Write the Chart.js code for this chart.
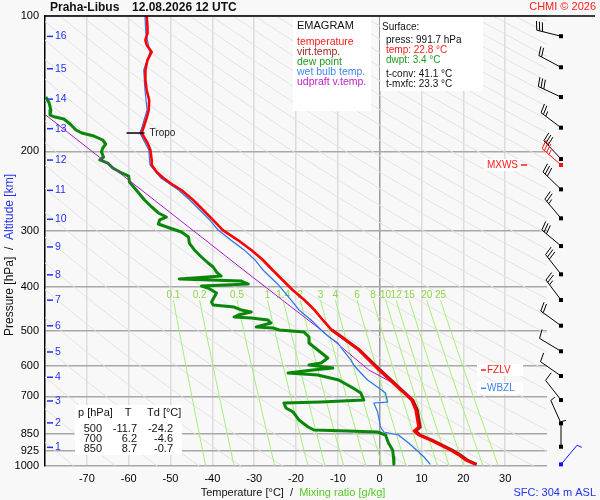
<!DOCTYPE html>
<html>
<head>
<meta charset="utf-8">
<title>Emagram Praha-Libus</title>
<script src="https://cdn.jsdelivr.net/npm/chart.js@4.4.1/dist/chart.umd.min.js"></script>
<style>
  html, body { margin: 0; padding: 0; background: #f8f8f8; }
  canvas { display: block; }
</style>
</head>
<body>
<canvas id="emagram" width="600" height="500"></canvas>
<script>
const FONT = '"Liberation Sans", Arial, Helvetica, sans-serif';
Chart.defaults.font.family = FONT;

// sounding profiles, pressure in hPa, temperature in deg C
const tempP = [100, 105.8, 109.1, 113.1, 116.0, 120.2, 125.3, 131.8, 138.7, 146.0, 153.7, 161.8, 168.5, 176.5, 182.0,
  191.5, 198.6, 208.9, 214.3, 222.2, 229.1, 237.4, 243.6, 256.4, 269.8, 284.1, 299.0, 314.7, 331.1, 348.5,
  366.8, 386.0, 406.3, 427.6, 450.0, 473.7, 498.5, 524.8, 552.3, 581.3, 611.8, 644.0, 677.8, 695.4, 713.4,
  750.8, 790.3, 819.1, 836.1, 853.4, 875.5, 898.3, 921.5, 945.4, 969.8, 991.7];
const tempC = [-55.7, -55.5, -55.5, -56.0, -55.7, -54.5, -55.5, -56.0, -56.0, -55.7, -55.1, -55.2, -55.7, -56.4, -56.9,
  -55.5, -54.8, -54.5, -54.5, -53.3, -51.7, -49.4, -47.4, -44.6, -42.2, -39.8, -37.5, -33.9, -30.7, -27.9,
  -25.6, -23.2, -20.8, -18.0, -15.6, -13.6, -11.5, -8.2, -5.0, -2.6, -0.2, 2.4, 5.0, 6.4, 7.6,
  8.6, 9.0, 9.3, 8.2, 9.3, 12.1, 14.5, 16.9, 18.9, 20.5, 22.8];

const virtP = [498.5, 552.3, 611.8, 677.8, 713.4, 750.8, 790.3, 819.1, 836.1, 853.4, 875.5, 898.3, 921.5, 945.4, 969.8, 991.7];
const virtC = [-11.4, -4.8, 0.1, 5.3, 7.9, 9.0, 9.4, 9.7, 8.6, 9.7, 12.5, 14.9, 17.3, 19.3, 20.9, 23.2];

const dewP = [151.4, 156.1, 161.8, 166.0, 167.7, 169.4, 173.8, 179.2, 182.0, 184.8, 188.6, 192.5, 196.5, 200.5, 205.7,
  208.9, 212.2, 217.7, 222.2, 226.8, 233.8, 238.7, 247.4, 256.4, 265.7, 274.0, 279.7, 284.0, 289.9, 295.9,
  302.0, 309.8, 319.5, 331.1, 343.2, 353.9, 361.2, 370.6, 378.3, 384.1, 388.1, 394.1, 398.1, 402.2, 412.6,
  432.1, 438.7, 443.3, 450.1, 454.7, 461.8, 466.5, 468.9, 473.7, 481.1, 491.0, 493.5, 498.6, 503.8, 516.8,
  532.9, 552.3, 575.4, 590.4, 596.4, 605.7, 611.9, 621.4, 627.8, 644.0, 671.0, 688.4, 713.6, 720.9, 724.4,
  743.2, 758.6, 790.2, 819.1, 831.8, 836.0, 840.3, 853.3, 888.9, 921.4, 955.0, 991.7];
const dewC = [-79.8, -79.0, -78.6, -78.8, -77.6, -75.5, -74.0, -72.6, -71.2, -68.3, -66.2, -65.5, -66.2, -66.5, -66.0,
  -66.9, -65.0, -63.8, -62.1, -60.0, -59.8, -59.0, -57.6, -56.2, -54.5, -52.9, -51.0, -52.6, -52.9, -50.2,
  -47.4, -45.7, -45.5, -44.3, -42.6, -41.0, -39.8, -39.0, -37.9, -47.9, -33.1, -31.4, -42.6, -41.0, -39.0,
  -40.2, -39.8, -34.8, -33.1, -30.7, -33.8, -34.8, -30.7, -26.7, -26.0, -29.5, -25.5, -24.0, -18.1, -16.9,
  -16.9, -14.8, -12.4, -14.0, -16.9, -11.2, -16.0, -21.9, -14.8, -9.8, -6.4, -4.5, -3.8, -14.0, -22.9,
  -22.4, -20.7, -19.3, -17.1, -15.7, -7.6, -0.5, 1.4, 2.1, 3.1, 3.3, 3.4];

const wetP = [100, 109.1, 120.2, 131.8, 146.0, 161.8, 176.5, 182.0, 198.6, 214.3, 229.1, 243.6, 256.4, 284, 299,
  315, 331, 348.5, 366.8, 394, 427.6, 450, 473.7, 498.6, 516.8, 532.9, 552.3, 581.3, 596.4, 621.4,
  644.0, 671.0, 688.4, 720.9, 724.4, 758.6, 819.1, 840.3, 853.3, 888.9, 921.4, 955.0, 991.7];
const wetC = [-56.1, -55.9, -54.9, -56.4, -56.1, -55.6, -56.8, -57.3, -55.2, -54.9, -52.3, -48.1, -45.4, -40.6, -38.6,
  -35.5, -32.4, -29.8, -27.9, -24.4, -21.2, -19.3, -16.4, -14.0, -12.1, -10.0, -8.8, -6.9, -6.2, -4.5,
  -2.9, -0.2, 1.4, 1.9, -1.4, -0.5, 0.2, 1.0, 4.5, 6.9, 8.8, 10.6, 12.1];

const parcelP = [165.0, 256.4, 382.1, 498.6, 611.9, 664.2];
const parcelC = [-80.2, -53.9, -30.1, -14.0, -2.6, 4.5];

// diagram
const pressureTicks = [100, 200, 300, 400, 500, 600, 700, 850, 925, 1000];
const altKm = [1, 2, 3, 4, 5, 6, 7, 8, 9, 10, 11, 12, 13, 14, 15, 16];
const altP = [909, 802, 717, 635, 558, 488, 428, 376, 326, 283, 244, 209, 178, 153, 131, 111];
const dryAdiabats = [190, 200, 210, 220, 230, 240, 250, 260, 270, 280, 290, 300, 310, 320, 330, 340, 350, 360,
  370, 380, 390, 400, 410, 420, 430, 440, 450, 460, 470, 480, 490, 500, 510, 520, 530, 540, 550, 560, 570,
  580, 590, 600, 610];
const mixRatios = [0.1, 0.2, 0.5, 1, 1.4, 2, 3, 4, 6, 8, 10, 12, 15, 20, 25];
const mixLevels = [428, 475, 525, 575, 625, 675, 725, 775, 825, 875, 925, 975, 1000];

// wind (direction deg, speed kt)
const windP = [110.9, 130.0, 151.4, 177.1, 207.9, 242.8, 281.6, 324.5, 375.0, 427.6, 487.8, 556.0, 631.0, 713.6, 803.8, 906.1];
const windDir = [284, 298, 295, 307, 317, 314, 320, 310, 322, 323, 306, 301, 305, 322, 336, 360];
const windKt = [30, 20, 30, 25, 30, 30, 25, 30, 30, 25, 20, 10, 10, 10, 5, 5];
const sfcWind = [991.7, 40, 5];
const maxWind = [214.3, 311, 35];

const tropoP = 182;
const tropoLineT = [-60.5, -56.2];
const fzlvP = 612;
const wbzlP = 672;

const tableP = [500, 700, 850];
const tableT = [-11.7, 6.2, 8.7];
const tableTd = [-24.2, -4.6, -0.7];

const legendItems = ['temperature', 'virt.temp.', 'dew point', 'wet bulb temp.', 'udpraft v.temp.'];
const legendColors = ['#ff1a1a', '#9c2020', '#1f9a1f', '#3f86f5', '#c020c8'];
const surfaceLines = ['press: 991.7 hPa', 'temp: 22.8 °C', 'dwpt: 3.4 °C', 't-conv: 41.1 °C', 't-mxfc: 23.3 °C'];
const surfaceColors = ['#111', '#ff1a1a', '#1f9a1f', '#111', '#111'];

function toXY(ps, ts) {
  return ps.map((p, i) => ({ x: ts[i], y: p }));
}

function label(ctx, s, x, y, color, font, align) {
  ctx.fillStyle = color;
  ctx.font = font;
  ctx.textAlign = align || 'left';
  ctx.textBaseline = 'middle';
  ctx.fillText(s, x, y);
}

function dewFromMix(w, p) {
  const e = w * p / (622 + w);
  const l = Math.log(e / 6.112);
  return 243.5 * l / (17.67 - l);
}

function drawBarb(ctx, x0, y0, dir, kt, color) {
  const a = dir * Math.PI / 180;
  const sx = Math.sin(a), sy = -Math.cos(a);
  const nx = -sy, ny = sx;
  const L = 25;
  ctx.strokeStyle = color;
  ctx.fillStyle = color;
  ctx.lineWidth = 1;
  ctx.beginPath();
  ctx.moveTo(x0, y0);
  ctx.lineTo(x0 + sx * L, y0 + sy * L);
  let left = Math.round(kt / 5) * 5;
  let d = L;
  while (left >= 10) {
    const bx = x0 + sx * d, by = y0 + sy * d;
    ctx.moveTo(bx, by);
    ctx.lineTo(bx + nx * 9 + sx * 2.5, by + ny * 9 + sy * 2.5);
    left -= 10;
    d -= 3;
  }
  if (left >= 5) {
    const bx = x0 + sx * d, by = y0 + sy * d;
    ctx.moveTo(bx, by);
    ctx.lineTo(bx + nx * 5 + sx * 1.4, by + ny * 5 + sy * 1.4);
  }
  ctx.stroke();
  ctx.fillRect(x0 - 2, y0 - 2, 4, 4);
}

const emagramPlugin = {
  id: 'emagram',
  beforeDatasetsDraw(chart) {
    const { ctx, chartArea: area } = chart;
    const X = chart.scales.x, Y = chart.scales.y;
    ctx.save();
    ctx.beginPath();
    ctx.rect(area.left, area.top, area.right - area.left, area.bottom - area.top);
    ctx.clip();

    // dry adiabats
    ctx.strokeStyle = '#e2e2e2';
    ctx.lineWidth = 1;
    dryAdiabats.forEach(theta => {
      ctx.beginPath();
      for (let p = 100; p <= 1000; p += 25) {
        const xx = X.getPixelForValue(theta * Math.pow(p / 1000, 0.286) - 273.15);
        const yy = Y.getPixelForValue(p);
        if (p === 100) ctx.moveTo(xx, yy); else ctx.lineTo(xx, yy);
      }
      ctx.stroke();
    });

    // mixing ratio lines
    ctx.strokeStyle = '#a4ef78';
    ctx.lineWidth = 1;
    mixRatios.forEach(w => {
      ctx.beginPath();
      mixLevels.forEach((p, i) => {
        const xx = X.getPixelForValue(dewFromMix(w, p));
        const yy = Y.getPixelForValue(p);
        if (i === 0) ctx.moveTo(xx, yy); else ctx.lineTo(xx, yy);
      });
      ctx.stroke();
    });
    mixRatios.forEach(w => {
      const p = mixLevels[0];
      label(ctx, String(w), X.getPixelForValue(dewFromMix(w, p)), Y.getPixelForValue(p) - 5,
        '#8cd64a', '10px ' + FONT, 'center');
    });
    ctx.restore();

    // legend box
    ctx.fillStyle = '#ffffff';
    ctx.fillRect(293, area.top + 1, 78, 94);
    label(ctx, 'EMAGRAM', 297, 26, '#111', '11px ' + FONT);
    legendItems.forEach((s, i) => label(ctx, s, 297, 42 + i * 10, legendColors[i], '10.5px ' + FONT));

    // surface box
    ctx.fillStyle = '#ffffff';
    ctx.fillRect(380, area.top + 1, 103, 74);
    label(ctx, 'Surface:', 382, 27, '#111', '10px ' + FONT);
    const sy = [40, 50, 60, 74, 84];
    surfaceLines.forEach((s, i) => label(ctx, s, 386, sy[i], surfaceColors[i], '10px ' + FONT));

    // table box
    ctx.fillStyle = '#ffffff';
    ctx.fillRect(75, 405, 107, 50);
    const tf = '11px ' + FONT;
    label(ctx, 'p [hPa]', 78, 413, '#111', tf);
    label(ctx, 'T', 128, 413, '#111', tf, 'center');
    label(ctx, 'Td [°C]', 147, 413, '#111', tf);
    tableP.forEach((p, i) => {
      const yy = 429 + i * 10;
      label(ctx, String(p), 102, yy, '#111', tf, 'right');
      label(ctx, tableT[i].toFixed(1), 137, yy, '#111', tf, 'right');
      label(ctx, tableTd[i].toFixed(1), 173, yy, '#111', tf, 'right');
    });

    // level labels
    const lf = '10px ' + FONT;
    const yF = Y.getPixelForValue(fzlvP), yW = Y.getPixelForValue(wbzlP), yM = Y.getPixelForValue(maxWind[0]);
    ctx.fillStyle = '#ffffff';
    ctx.fillRect(477, yF - 6, 46, 12);
    ctx.fillRect(477, yW - 6, 46, 12);
    ctx.fillRect(484, yM - 6, 36, 12);
    ctx.lineWidth = 1.5;
    ctx.strokeStyle = '#ff1a1a';
    ctx.beginPath(); ctx.moveTo(481, yF); ctx.lineTo(486, yF); ctx.stroke();
    ctx.beginPath(); ctx.moveTo(521, yM); ctx.lineTo(527, yM); ctx.stroke();
    ctx.strokeStyle = '#3f7ff0';
    ctx.beginPath(); ctx.moveTo(481, yW); ctx.lineTo(486, yW); ctx.stroke();
    label(ctx, 'FZLV', 487, yF, '#ff1a1a', lf);
    label(ctx, 'WBZL', 487, yW, '#3f7ff0', lf);
    label(ctx, 'MXWS', 518, yM, '#ff1a1a', lf, 'right');
  },
  afterDatasetsDraw(chart) {
    const { ctx } = chart;
    const X = chart.scales.x, Y = chart.scales.y;
    const yT = Y.getPixelForValue(tropoP);
    ctx.save();
    ctx.strokeStyle = '#000';
    ctx.lineWidth = 1.5;
    ctx.beginPath();
    ctx.moveTo(X.getPixelForValue(tropoLineT[0]), yT);
    ctx.lineTo(X.getPixelForValue(tropoLineT[1]), yT);
    ctx.stroke();
    label(ctx, 'Tropo', X.getPixelForValue(tropoLineT[1]) + 5, yT, '#222', '10px ' + FONT);

    // altitude marks
    ctx.strokeStyle = '#2233ee';
    ctx.lineWidth = 1.5;
    altKm.forEach((km, i) => {
      const yy = Y.getPixelForValue(altP[i]);
      ctx.beginPath(); ctx.moveTo(47, yy); ctx.lineTo(53, yy); ctx.stroke();
      label(ctx, String(km), 55, yy, '#2233ee', '10.5px ' + FONT);
    });
    ctx.restore();
  },
  afterDraw(chart) {
    const { ctx, chartArea: area } = chart;
    const Y = chart.scales.y;
    ctx.save();
    // top frame line
    ctx.strokeStyle = '#000';
    ctx.lineWidth = 1.5;
    ctx.beginPath(); ctx.moveTo(area.left, area.top); ctx.lineTo(595, area.top); ctx.stroke();

    // titles
    label(ctx, 'Praha-Libus', 50, 8, '#111', 'bold 12px ' + FONT);
    label(ctx, '12.08.2026 12 UTC', 132, 8, '#111', 'bold 12px ' + FONT);
    label(ctx, 'CHMI © 2026', 596, 7, '#ff1a1a', '11px ' + FONT, 'right');
    label(ctx, 'SFC: 304 m ASL', 596, 493, '#2233ee', '11px ' + FONT, 'right');

    // x axis title
    const xf = '11px ' + FONT;
    ctx.font = xf;
    const xParts = ['Temperature [°C]', '  /  ', 'Mixing ratio [g/kg]'];
    const xCols = ['#111', '#111', '#55c825'];
    const xW = xParts.map(s => ctx.measureText(s).width);
    let xx = 293 - xW.reduce((a, b) => a + b, 0) / 2;
    xParts.forEach((s, i) => { label(ctx, s, xx, 493, xCols[i], xf); xx += xW[i]; });

    // y axis title
    ctx.translate(10, 255);
    ctx.rotate(-Math.PI / 2);
    const yf = '12px ' + FONT;
    ctx.font = yf;
    const yParts = ['Pressure [hPa]', '  /  ', 'Altitude [km]'];
    const yCols = ['#111', '#111', '#2233ee'];
    const yW = yParts.map(s => ctx.measureText(s).width);
    let yy = -yW.reduce((a, b) => a + b, 0) / 2;
    yParts.forEach((s, i) => { label(ctx, s, yy, 0, yCols[i], yf); yy += yW[i]; });
    ctx.restore();

    // wind barbs
    ctx.save();
    const bx = area.right + 14;
    windP.forEach((p, i) => drawBarb(ctx, bx, Y.getPixelForValue(p), windDir[i], windKt[i], '#000'));
    drawBarb(ctx, bx, Y.getPixelForValue(maxWind[0]), maxWind[1], maxWind[2], '#ff1010');
    drawBarb(ctx, bx, Y.getPixelForValue(sfcWind[0]), sfcWind[1], sfcWind[2], '#1010ff');
    ctx.restore();
  }
};

const lineStyle = { showLine: true, pointRadius: 0, fill: false, tension: 0, borderJoinStyle: 'round' };

new Chart(document.getElementById('emagram'), {
  type: 'scatter',
  data: {
    datasets: [
      Object.assign({ label: 'temperature', data: toXY(tempP, tempC), borderColor: '#ff0000', borderWidth: 2.6, order: 1 }, lineStyle),
      Object.assign({ label: 'virt.temp.', data: toXY(virtP, virtC), borderColor: '#a31515', borderWidth: 3, order: 2 }, lineStyle),
      Object.assign({ label: 'wet bulb temp.', data: toXY(wetP, wetC), borderColor: '#2a72f0', borderWidth: 1.2, order: 3 }, lineStyle),
      Object.assign({ label: 'udpraft v.temp.', data: toXY(parcelP, parcelC), borderColor: '#a818c8', borderWidth: 1, order: 4 }, lineStyle),
      Object.assign({ label: 'dew point', data: toXY(dewP, dewC), borderColor: '#0a870a', borderWidth: 3, order: 5 }, lineStyle)
    ]
  },
  options: {
    responsive: false,
    animation: false,
    events: [],
    layout: { padding: { top: 16, right: 53, bottom: 0, left: 0 } },
    plugins: { legend: { display: false }, tooltip: { enabled: false } },
    scales: {
      x: {
        type: 'linear',
        min: -80,
        max: 40,
        afterFit: s => { s.height = 34; },
        ticks: {
          stepSize: 10,
          autoSkip: false,
          maxRotation: 0,
          padding: 6,
          color: '#000',
          font: { size: 11 },
          callback: v => (v <= -80 || v >= 40) ? '' : String(v)
        },
        grid: {
          drawTicks: false,
          lineWidth: 1.5,
          color: c => {
            const v = c.tick ? c.tick.value : null;
            if (v === 0) return '#9a9a9a';
            if (v <= -80 || v >= 40) return 'rgba(0,0,0,0)';
            return '#dcdcdc';
          }
        },
        border: { display: false }
      },
      y: {
        type: 'logarithmic',
        min: 100,
        max: 1000,
        reverse: true,
        afterFit: s => { s.width = 45; },
        afterBuildTicks: s => { s.ticks = pressureTicks.map(v => ({ value: v })); },
        ticks: {
          autoSkip: false,
          padding: 6,
          color: '#000',
          font: { size: 11 },
          callback: v => String(v)
        },
        grid: { drawTicks: false, color: '#a8a8a8', lineWidth: 1.5 },
        border: { color: '#000', width: 1.5 }
      }
    }
  },
  plugins: [emagramPlugin]
});
</script>
</body>
</html>
